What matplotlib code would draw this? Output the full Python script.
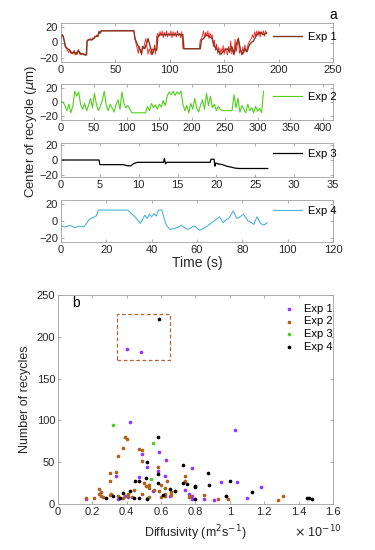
import numpy as np
import matplotlib
matplotlib.use('Agg')
import matplotlib.pyplot as plt
from matplotlib.patches import Rectangle

plt.rcParams['font.family'] = ['Liberation Sans', 'DejaVu Sans']
plt.rcParams['axes.edgecolor'] = '#a0a0a0'
plt.rcParams['xtick.color'] = '#a0a0a0'
plt.rcParams['ytick.color'] = '#a0a0a0'
plt.rcParams['xtick.labelcolor'] = '#262626'
plt.rcParams['ytick.labelcolor'] = '#262626'

# ---- panel a: centre of recycle vs time ----
# Exp 1, raw trace, one value per second (0..189 s)
exp1_raw = [5, 10, 8, 2, -6, -8, -10, -13, -9, -14,
            -12, -15, -10, -16, -12, -15, -9, -15, -13, -16,
            -14, -16, -15, -16, 2, 4, 3, 5, 4, 6,
            5, 8, 7, 10, 8, 14, 12, 15, 15, 15,
            15, 15, 15, 15, 15, 15, 15, 15, 15, 15,
            15, 15, 15, 15, 15, 15, 15, 15, 15, 15,
            15, 15, 15, 15, 15, 15, 15, 15, 5, -2,
            -8, -14, -5, -10, -16, -5, -8, 0, 5, -5,
            -15, -8, -12, -16, -8, -10, -3, -15, 8, 12,
            7, 14, 9, 15, 6, 13, 8, 15, 7, 12,
            9, 15, 6, 14, 8, 13, 7, 15, 9, 12,
            6, 14, -8, -8, -8, -8, -8, -8, -8, -8,
            -8, -8, -8, -8, -8, -8, -8, -8, 3, 5,
            9, 15, 6, 13, 8, 15, 5, 12, 7, 10,
            -5, 3, -10, -2, -14, -6, -16, -8, -12, -4,
            -15, -7, -11, -16, -5, -13, 2, -15, -8, -16,
            4, -12, -3, 6, -14, -9, -16, -6, -13, -3,
            -12, -8, -2, 1, 3, 5, 10, 6, 14, 8,
            15, 9, 15, 7, 14, 10, 15, 8, 15, 12]
# Exp 1, smoothed trace (time, value)
exp1_t = [0, 1, 2, 3, 4, 6, 8, 10, 12, 14, 16, 18, 20, 22, 23.5, 24, 26, 28, 30,
          32, 34, 35, 36, 37, 67, 68, 70, 72, 74, 75, 77, 79, 80, 82, 84, 86, 88,
          89, 91, 112, 113, 128, 129, 131, 133, 136, 139, 141, 143, 145, 147, 150,
          153, 155, 157, 159, 161, 163, 165, 167, 169, 171, 173, 175, 177, 178,
          180, 183, 186, 189]
exp1_s = [5, 10, 8, 2, -5, -8, -10, -14, -12, -15, -10, -15, -14, -16, -16, 2, 4, 3, 5,
          8, 8, 14, 12, 15, 15, 5, -2, -8, -14, -5, -8, 0, 5, -5, -15, -8, -10,
          8, 10, 10, -8, -8, 3, 5, 10, 8, 5, -5, -8, -12, -15, -10,
          -8, -12, -5, -15, -3, 5, -10, -15, -8, -12, -3, 0, 2, 5,
          10, 13, 10, 12]

# Exp 2, one value every 3 s (0..309 s)
exp2_step = 3
exp2_y = [0, 0, -5, -12, -3, -15, -6, 15, 8, 14,
          -4, -10, -2, -12, -5, 5, -8, 12, -3, -12,
          -6, 2, 15, -5, -12, -3, -8, -14, -4, 3,
          -10, 14, -2, -8, -5, -10, -15, -15, -15, -15,
          -15, -15, -15, -15, -6, -12, -2, -8, -4, -10,
          -3, -7, 2, -5, 8, 14, 10, 15, 9, 14,
          11, 15, -3, -12, -5, -15, -2, -10, 5, -8,
          -14, -4, 3, -10, 12, -5, 8, -8, -3, -12,
          -6, -10, -12, -12, -12, -12, -12, -12, 10, -8,
          5, -14, -5, -10, -15, -3, -12, -8, -15, -6,
          -13, -9, -15, 15]

# Exp 3 (time, value)
exp3_t = [0, 4.9, 5.0, 8.0, 8.6, 9.0, 9.3, 9.8, 13.2, 13.3, 13.45, 13.6, 19.2, 19.3,
          19.7, 19.8, 19.9, 20.2, 20.8, 21.3, 21.8, 22.4, 23.0, 26.6]
exp3_y = [0, 0, -6, -6, -7.5, -7.5, -5, -3, -3, 2, -5, -3, -3, 1,
          1, -8, -4, -5, -6, -8, -9, -10.5, -11, -11]

# Exp 4 (time, value)
exp4_t = [0, 2, 4, 6, 8, 10, 11, 12.5, 14, 15.5, 16.5, 20, 25, 29.5, 31, 33, 35, 36,
          37, 38, 39, 40, 41, 42, 43, 44.5, 45.5, 46.5, 48, 50, 52, 53, 55, 56,
          58, 59, 61, 62, 64, 65, 67.5, 69, 70, 71.5, 73, 74, 76, 77.5, 79, 80.5,
          82.5, 84, 85, 86.5, 88, 89.5, 91]
exp4_y = [-6, -7, -5, -8, -6, -7, -4, 2, 4, 6, 13, 13, 13, 13, 9, 4, -3, 2,
          7, 3, 8, 5, 9, 6, 13, 13, 3, -5, -10, -9, -7, -5, -9, -10,
          -7, -6, -11, -10, -7, -5, 0, 3, 5, -2, 2, 3, 12, 3, 5, 8,
          0, -2, -4, 5, -3, -5, -2]

# ---- panel b: number of recycles vs diffusivity (x 1e-10 m^2/s) ----
exp1_D = [0.40, 0.48, 0.42, 1.03, 0.49, 0.59, 0.63, 0.52, 0.58, 0.78, 0.34, 0.62,
          0.47, 0.55, 0.39, 0.41, 0.35, 0.16, 0.65, 0.76, 0.78, 0.74, 0.95, 1.04,
          1.18, 0.85, 0.91, 1.10, 0.78]
exp1_N = [185, 182, 98, 88, 60, 62, 53, 44, 40, 43, 33, 34,
          32, 16, 10, 8, 6, 6, 9, 12, 6, 17, 26, 26,
          20, 6, 5, 7, 9]
exp2_D = [0.39, 0.40, 0.38, 0.47, 0.49, 0.35, 0.49, 0.58, 0.30, 0.335, 0.30, 0.635,
          0.74, 0.50, 0.53, 0.51, 0.53, 0.60, 0.62, 0.24, 0.25, 0.44, 0.41, 0.24,
          0.56, 0.59, 0.66, 0.68, 0.76, 0.77, 0.16, 0.21, 0.25, 0.26, 0.30, 0.31,
          0.35, 0.38, 0.40, 0.43, 0.49, 0.53, 0.60, 0.62, 0.66, 0.62, 0.80, 0.85,
          0.93, 0.98, 0.99, 1.28, 1.31, 0.74]
exp2_N = [80, 78, 67, 66, 64, 57, 51, 44, 37, 38, 27, 27,
          33, 25, 23, 21, 19, 23, 19, 18, 14, 17, 12, 12,
          17, 15, 14, 16, 8, 10, 7, 7, 10, 8, 11, 12,
          10, 7, 10, 8, 12, 8, 8, 9, 11, 12, 22, 11,
          6, 9, 6, 5, 10, 27]
exp3_D = [0.32, 0.55, 0.54, 0.52]
exp3_N = [95, 73, 30, 7]
exp4_D = [0.59, 0.58, 0.52, 0.58, 0.73, 0.47, 0.45, 0.51, 0.58, 0.73, 0.75, 0.80,
          0.42, 0.38, 0.65, 0.68, 0.28, 0.32, 0.36, 0.44, 0.47, 0.52, 0.61, 0.80,
          0.87, 0.88, 1.00, 0.80, 1.13, 0.98, 1.45, 1.46, 1.48]
exp4_N = [221, 80, 50, 36, 47, 28, 27, 31, 25, 25, 24, 21,
          16, 13, 18, 16, 7, 9, 7, 7, 7, 6, 11, 6,
          37, 23, 28, 20, 14, 10, 7, 7, 6]
box_D = [0.345, 0.653]
box_N = [172, 227]

W, H = 375, 550
def pos(l, t, r, b):
    return [l / W, 1 - b / H, (r - l) / W, (b - t) / H]

fig = plt.figure(figsize=(W / 100, H / 100), dpi=100)

def style(ax):
    ax.tick_params(direction='in', top=True, right=True, length=2.5, width=0.6, labelsize=8, pad=2)
    for s in ax.spines.values():
        s.set_linewidth(0.6)

ax1 = fig.add_axes(pos(61, 23, 333, 62))
ax1.plot(np.arange(len(exp1_raw)), exp1_raw, color='#ff1a1a', lw=0.6)
l1, = ax1.plot(exp1_t, exp1_s, color='#7d3a1e', lw=1.0, label='Exp 1')
ax1.set_xlim(0, 250)
ax1.set_ylim(-25, 25)
ax1.set_xticks(range(0, 251, 50))
ax1.set_yticks([-20, 0, 20])
ax1.legend(handles=[l1], loc='center left', bbox_to_anchor=(0.76, 0.64), frameon=False,
           fontsize=8, handlelength=2.6, borderpad=0, handletextpad=0.5)
ax1.text(1.0, 1.02, 'a', transform=ax1.transAxes, fontsize=10, ha='center', va='bottom')
style(ax1)

ax2 = fig.add_axes(pos(61, 84, 333, 120))
l2, = ax2.plot(np.arange(len(exp2_y)) * exp2_step, exp2_y, color='#4fd11a', lw=0.8, label='Exp 2')
ax2.set_xlim(0, 415)
ax2.set_ylim(-25, 25)
ax2.set_xticks(range(0, 401, 50))
ax2.set_yticks([-20, 0, 20])
ax2.legend(handles=[l2], loc='center left', bbox_to_anchor=(0.76, 0.65), frameon=False,
           fontsize=8, handlelength=2.6, borderpad=0, handletextpad=0.5)
style(ax2)

ax3 = fig.add_axes(pos(61, 143, 333, 177))
l3, = ax3.plot(exp3_t, exp3_y, color='black', lw=0.9, label='Exp 3')
ax3.set_xlim(0, 35)
ax3.set_ylim(-22, 22)
ax3.set_xticks(range(0, 36, 5))
ax3.set_yticks([-20, 0, 20])
ax3.legend(handles=[l3], loc='center left', bbox_to_anchor=(0.76, 0.67), frameon=False,
           fontsize=8, handlelength=2.6, borderpad=0, handletextpad=0.5)
style(ax3)

ax4 = fig.add_axes(pos(61, 200, 333, 242))
l4, = ax4.plot(exp4_t, exp4_y, color='#4fb3dc', lw=0.8, label='Exp 4')
ax4.set_xlim(0, 120)
ax4.set_ylim(-25, 25)
ax4.set_xticks(range(0, 121, 20))
ax4.set_yticks([-20, 0, 20])
ax4.legend(handles=[l4], loc='center left', bbox_to_anchor=(0.76, 0.74), frameon=False,
           fontsize=8, handlelength=2.6, borderpad=0, handletextpad=0.5)
ax4.set_xlabel('Time (s)', fontsize=10, labelpad=1, color='#262626')
style(ax4)

fig.text(31 / W, 1 - 131 / H, 'Center of recycle ($\\mu$m)', rotation=90,
         ha='center', va='center', fontsize=9.5, color='#262626')

# panel b
axb = fig.add_axes(pos(58, 295, 333, 504))
axb.scatter(exp1_D, exp1_N, s=7, color='#9933ff', label='Exp 1', lw=0)
axb.scatter(exp2_D, exp2_N, s=7, color='#b0601a', label='Exp 2', lw=0)
axb.scatter(exp3_D, exp3_N, s=7, color='#55cc22', label='Exp 3', lw=0)
axb.scatter(exp4_D, exp4_N, s=7, color='black', label='Exp 4', lw=0)
axb.add_patch(Rectangle((box_D[0], box_N[0]), box_D[1] - box_D[0], box_N[1] - box_N[0],
                        fill=False, ls=(0, (3, 2)), lw=0.9, edgecolor='#b5653a'))
axb.set_xlim(0, 1.6)
axb.set_ylim(0, 250)
axb.set_xticks(np.arange(0, 1.61, 0.2))
axb.set_xticklabels(['0', '0.2', '0.4', '0.6', '0.8', '1', '1.2', '1.4', '1.6'])
axb.set_yticks(range(0, 251, 50))
axb.set_xlabel('Diffusivity (m$^2$s$^{-1}$)', fontsize=9, color='#262626', labelpad=5)
axb.set_ylabel('Number of recycles', fontsize=9, color='#262626', labelpad=4)
axb.text(0.065, 0.96, 'b', transform=axb.transAxes, fontsize=10, ha='center', va='center')
axb.legend(loc='upper left', bbox_to_anchor=(0.78, 0.985), frameon=False, fontsize=8,
           handletextpad=0.3, labelspacing=0.25, markerscale=1.0, borderpad=0)
fig.text(318 / W, 1 - 532 / H, '$\\times$ 10$^{-10}$', ha='center', va='center',
         fontsize=9, color='#262626')
style(axb)

fig.savefig('out.png', dpi=100)
